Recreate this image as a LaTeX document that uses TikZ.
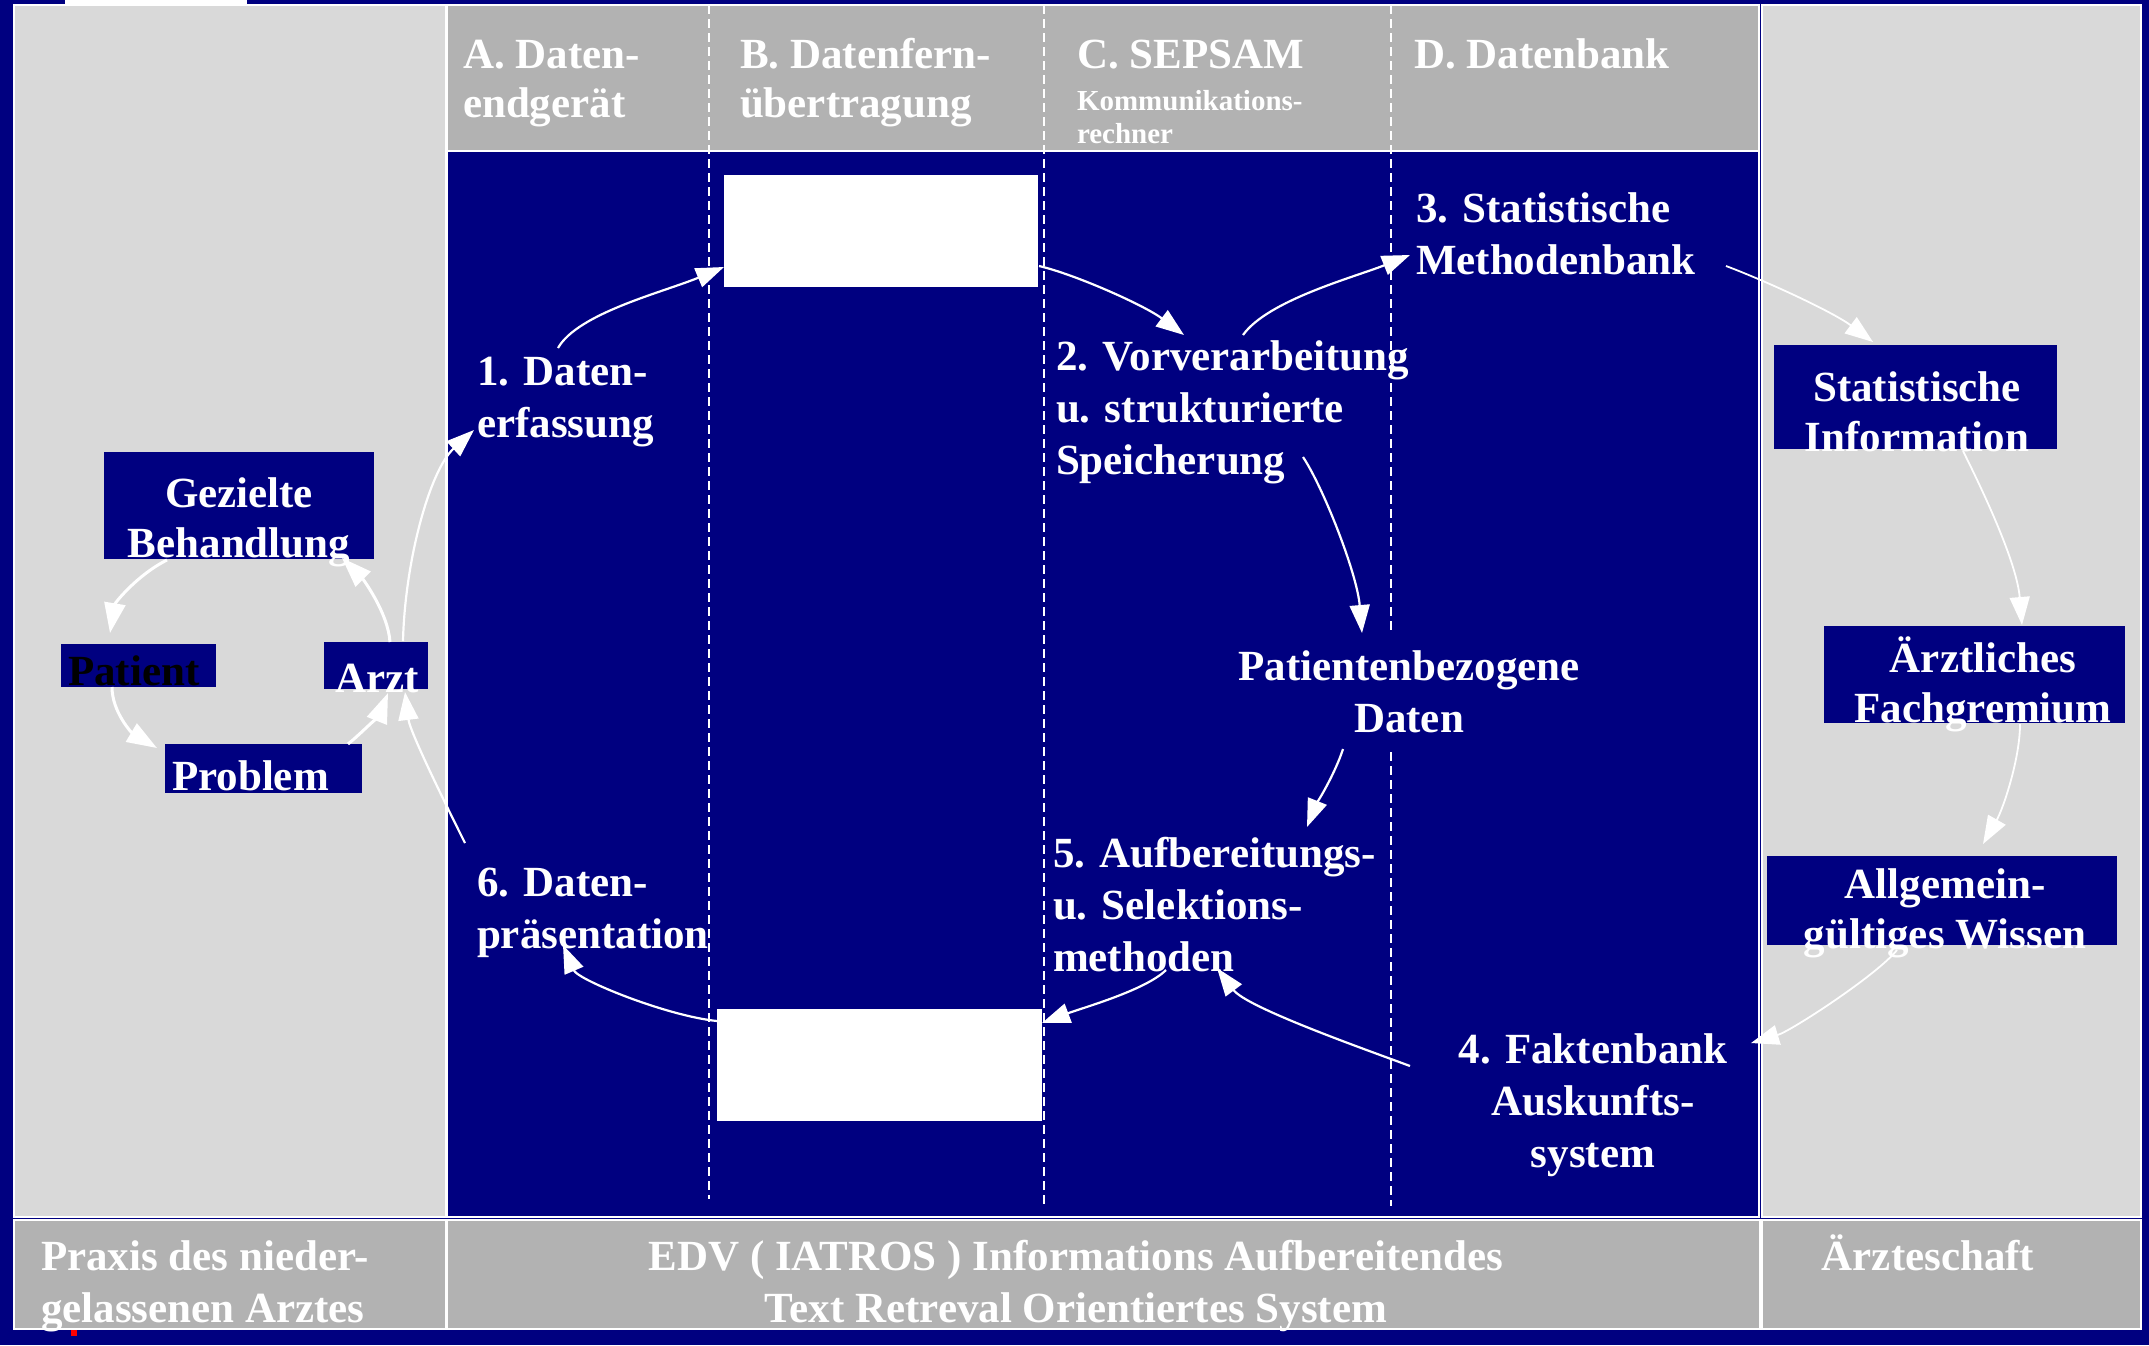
\documentclass[tikz,border=0pt]{standalone}
\usepackage{fontspec}
\setmainfont{Liberation Serif}
\usetikzlibrary{arrows.meta}
\definecolor{navy}{RGB}{0,0,128}
\definecolor{panelgray}{RGB}{217,217,217}
\definecolor{bargray}{RGB}{178,178,178}
% multi-line text blocks whose baseline is the first line
\newcommand\lft[1]{\begin{tabular}[t]{@{}l@{}}#1\end{tabular}}
\newcommand\ctr[1]{\begin{tabular}[t]{@{}c@{}}#1\end{tabular}}
\begin{document}
\begin{tikzpicture}[x=1pt,y=1pt,
  txt/.style={inner sep=0pt, outer sep=0pt, text=white, font=\fontsize{43}{52}\selectfont\bfseries},
  hdr/.style={txt, font=\fontsize{43}{49}\selectfont\bfseries},
  subhdr/.style={txt, font=\fontsize{29}{33}\selectfont\bfseries},
  boxtxt/.style={txt, font=\fontsize{43}{50}\selectfont\bfseries},
  navybox/.style={fill=navy, draw=none, inner sep=0pt, outer sep=0pt, anchor=north west},
  whitebox/.style={fill=white, draw=none, inner sep=0pt, outer sep=0pt, anchor=north west},
  panel/.style={draw=white, line width=2pt},
  divider/.style={draw=white, line width=1.8pt, dash pattern=on 9pt off 5pt},
  arr/.style={draw=white, line width=2.2pt, -{Triangle[length=28pt,width=20pt]}},
  thinarr/.style={arr, line width=1.8pt},
  cyc/.style={draw=white, line width=3pt, -{Triangle[length=30pt,width=21pt]}},
]
% background and panels
\fill[navy] (0,0) rectangle (2149,-1345);
\fill[white] (65,0) rectangle (247,-4);
\filldraw[panel, fill=panelgray] (14,-5) rectangle (446,-1217);
\filldraw[panel, fill=panelgray] (1762,-5) rectangle (2141,-1217);
\filldraw[panel, fill=bargray] (447,-5) rectangle (1759,-151);
\filldraw[panel, fill=navy] (447,-151) rectangle (1759,-1217);
\filldraw[panel, fill=bargray] (14,-1220) rectangle (446,-1329);
\filldraw[panel, fill=bargray] (447,-1220) rectangle (1760,-1329);
\filldraw[panel, fill=bargray] (1762,-1220) rectangle (2141,-1329);
\fill[red] (71,-1330) rectangle (77,-1336);

% column dividers
\draw[divider] (709,-5) -- (709,-1199);
\draw[divider] (1044,-5) -- (1044,-1206);
\draw[divider] (1391,-5) -- (1391,-631);
\draw[divider] (1391,-752) -- (1391,-1206);

% column headings
\node[hdr, anchor=base west] (hA) at (463,-68) {\lft{A. Daten-\\endgerät}};
\node[hdr, anchor=base west] (hB) at (740,-68) {\lft{B. Datenfern-\\übertragung}};
\node[hdr, anchor=base west] (hC) at (1077,-68) {C. SEPSAM};
\node[subhdr, anchor=base west] (hCs) at (1077,-110) {\lft{Kommunikations-\\rechner}};
\node[hdr, anchor=base west] (hD) at (1414,-68) {D. Datenbank};

% transfer blocks
\node[whitebox, minimum width=314pt, minimum height=112pt] (wtop) at (724,-175) {};
\node[whitebox, minimum width=325pt, minimum height=112pt] (wbot) at (717,-1009) {};

% practice cycle
\node[navybox, minimum width=270pt, minimum height=107pt] (geb) at (104,-452) {};
\node[navybox, minimum width=155pt, minimum height=43pt] (pat) at (61,-644) {};
\node[navybox, minimum width=104pt, minimum height=47pt] (arzt) at (324,-642) {};
\node[navybox, minimum width=197pt, minimum height=49pt] (prob) at (165,-744) {};
\node[boxtxt, anchor=base] (gebt) at (239,-507) {\ctr{Gezielte\\Behandlung}};
\node[boxtxt, text=black, anchor=base west] (patt) at (68,-685) {Patient};
\node[boxtxt, anchor=base] (arztt) at (377,-692) {Arzt};
\node[boxtxt, anchor=base west] (probt) at (172,-790) {Problem};

% medical community
\node[navybox, minimum width=283pt, minimum height=104pt] (sti) at (1774,-345) {};
\node[navybox, minimum width=301pt, minimum height=97pt] (aef) at (1824,-626) {};
\node[navybox, minimum width=350pt, minimum height=89pt] (agw) at (1767,-856) {};
\node[boxtxt, anchor=base] (stit) at (1917,-401) {\ctr{Statistische\\Information}};
\node[boxtxt, anchor=base] (aeft) at (1983,-672) {\ctr{Ärztliches\\Fachgremium}};
\node[boxtxt, anchor=base] (agwt) at (1945,-898) {\ctr{Allgemein-\\gültiges Wissen}};

% processing steps
\node[txt, anchor=base west] (l1) at (477,-385) {\lft{1. Daten-\\erfassung}};
\node[txt, anchor=base west] (l2) at (1056,-370) {\lft{2. Vorverarbeitung\\u. strukturierte\\Speicherung}};
\node[txt, anchor=base west] (l3) at (1416,-222) {\lft{3. Statistische\\Methodenbank}};
\node[txt, anchor=base] (lpd) at (1409,-680) {\ctr{Patientenbezogene\\Daten}};
\node[txt, anchor=base west] (l5) at (1053,-867) {\lft{5. Aufbereitungs-\\u. Selektions-\\methoden}};
\node[txt, anchor=base west] (l6) at (477,-896) {\lft{6. Daten-\\präsentation}};
\node[txt, anchor=base] (l4) at (1593,-1063) {\ctr{4. Faktenbank\\Auskunfts-\\system}};

% footer
\node[txt, anchor=base west] (fL) at (41,-1270) {\lft{Praxis des nieder-\\gelassenen Arztes}};
\node[txt, anchor=base] (fM) at (1076,-1270) {\ctr{EDV ( IATROS ) Informations Aufbereitendes\\Text Retreval Orientiertes System}};
\node[txt, anchor=base] (fR) at (1928,-1270) {Ärzteschaft};

% main data flow
\draw[arr] ([shift={(27,1)}]arzt.north) .. controls +(2,81) and +(-44,-40) .. ([shift={(-3,-45)}]l1.base west);
\draw[arr] ([shift={(81,37)}]l1.base west) .. controls +(20,35) and +(-60,-25) .. ([shift={(0,-36)}]wtop.west);
\draw[arr] ([shift={(1,-35)}]wtop.east) .. controls +(35,-8) and +(-40,30) .. ([shift={(128,35)}]l2.base west);
\draw[arr] ([shift={(187,35)}]l2.base west) .. controls +(25,35) and +(-55,-22) .. ([shift={(-6,-33)}]l3.base west);
\draw[thinarr] ([shift={(310,-44)}]l3.base west) .. controls +(40,-15) and +(-40,30) .. ([shift={(99,3)}]sti.north west);
\draw[thinarr] ([shift={(189,-2)}]sti.south west) .. controls +(25,-50) and +(-5,60) .. ([shift={(198,1)}]aef.north west);
\draw[thinarr] ([shift={(196,-1)}]aef.south west) .. controls +(0,-35) and +(20,35) .. ([shift={(216,12)}]agw.north west);
\draw[thinarr] ([shift={(130,-5)}]agw.south west) .. controls +(-20,-25) and +(40,12) .. ([shift={(158,20)}]l4.base);
\draw[arr] ([shift={(-183,-3)}]l4.base) .. controls +(-40,15) and +(30,-40) .. ([shift={(164,-101)}]l5.base west);
\draw[arr] ([shift={(247,-87)}]l2.base west) .. controls +(20,-30) and +(-5,60) .. ([shift={(-47,47)}]lpd.base);
\draw[arr] ([shift={(-66,-69)}]lpd.base) .. controls +(-8,-25) and +(8,20) .. ([shift={(254,40)}]l5.base west);
\draw[arr] ([shift={(113,-103)}]l5.base west) .. controls +(-20,-20) and +(40,15) .. ([shift={(0,-14)}]wbot.north east);
\draw[arr] ([shift={(0,-12)}]wbot.north west) .. controls +(-50,5) and +(15,-35) .. ([shift={(86,-49)}]l6.base west);
\draw[arr] ([shift={(-12,53)}]l6.base west) .. controls +(-20,40) and +(5,-40) .. ([shift={(29,-3)}]arzt.south);

% treatment cycle
\draw[cyc] ([shift={(63,-1)}]geb.south west) .. controls +(-30,-15) and +(5,30) .. ([shift={(49,11)}]pat.north west);
\draw[cyc] ([shift={(51,0)}]pat.south west) .. controls +(0,-25) and +(-25,15) .. ([shift={(-8,-4)}]prob.north west);
\draw[cyc] ([shift={(-14,0)}]prob.north east) .. controls +(15,12) and +(-8,-20) .. ([shift={(12,-4)}]arzt.south);
\draw[cyc] ([shift={(14,0)}]arzt.north) .. controls +(-2,30) and +(20,-20) .. ([shift={(-32,1)}]geb.south east);
\end{tikzpicture}
\end{document}
